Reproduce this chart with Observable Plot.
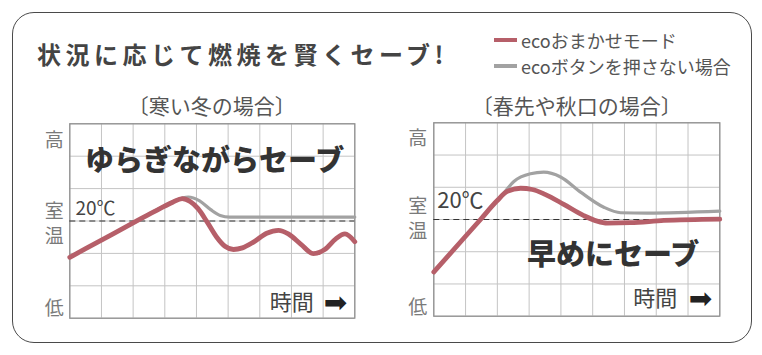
<!DOCTYPE html>
<html><head><meta charset="utf-8">
<script src="https://cdn.jsdelivr.net/npm/d3@7"></script>
<script src="https://cdn.jsdelivr.net/npm/@observablehq/plot@0.6"></script>
<style>
body{margin:0;background:#fff;font-family:"Noto Sans CJK JP",sans-serif;}
#wrap{position:relative;width:762px;height:355px;overflow:hidden;background:#fff;}
#box{position:absolute;box-sizing:border-box;left:11.5px;top:11.5px;width:740px;height:331px;border:1.5px solid #4a4a4a;border-radius:22px;}
#title{position:absolute;left:37px;top:42px;font-size:24px;line-height:24px;font-weight:700;color:#444;letter-spacing:4.5px;white-space:nowrap;}
.sw{position:absolute;left:494px;width:23px;height:4px;}
.lg{position:absolute;left:521px;font-size:18px;line-height:18px;color:#555;white-space:nowrap;}
.pt{position:absolute;top:94px;width:260px;font-size:21px;line-height:22px;color:#555;text-align:center;white-space:nowrap;}
.pn{position:absolute;top:115px;}
</style>
</head><body>
<div id="wrap">
  <div id="box"></div>
  <div id="title"></div>
  <div class="sw" id="sw0" style="top:38px"></div>
  <div class="lg" id="lg0" style="top:31px"></div>
  <div class="sw" id="sw1" style="top:63.7px"></div>
  <div class="lg" id="lg1" style="top:56.7px"></div>
  <div class="pt" id="pt0" style="left:81.7px"></div>
  <div class="pt" id="pt1" style="left:446.7px"></div>
  <div class="pn" id="p0" style="left:30px"></div>
  <div class="pn" id="p1" style="left:395px"></div>
</div>
<script>
// ---- text ----
const titleText = "状況に応じて燃焼を賢くセーブ!";
const seriesNames = ["ecoおまかせモード", "ecoボタンを押さない場合"];
const seriesColors = ["#b65f69", "#a2a2a2"];
const panelTitles = ["〔寒い冬の場合〕", "〔春先や秋口の場合〕"];
const bigLabels = ["ゆらぎながらセーブ", "早めにセーブ"];
const refLabel = "20℃";
const timeLabel = "時間";
const yLabels = ["高", "室", "温", "低"];

// ---- grid / scale values (grid units: 9 columns, 6 rows) ----
const cols = [0, 1, 2, 3, 4, 5, 6, 7, 8, 9];
const rows = [0, 1, 2, 3, 4, 5, 6];
const roomTemp = 3;
const winterLabelPos = [5.48, 3.27, 2.5, 0.29];
const springLabelPos = [5.5, 3.38, 2.6, 0.27];

// ---- winter (寒い冬) ----
const winterEcoX = [0, 1, 2, 2.86, 3.25, 3.55, 3.8, 4.05, 4.33, 4.64, 4.9, 5.17, 5.45, 5.8, 6.22, 6.59, 6.9, 7.3, 7.69, 8.05, 8.4, 8.69, 9];
const winterEcoY = [1.88, 2.41, 2.94, 3.39, 3.58, 3.69, 3.6, 3.38, 2.98, 2.5, 2.22, 2.12, 2.17, 2.35, 2.62, 2.71, 2.6, 2.28, 1.99, 2.12, 2.45, 2.6, 2.36];
const winterOffX = [0, 1, 2, 2.86, 3.3, 3.74, 4.1, 4.45, 4.75, 5.05, 6, 7, 8, 9];
const winterOffY = [1.88, 2.41, 2.94, 3.4, 3.62, 3.74, 3.62, 3.35, 3.17, 3.12, 3.12, 3.12, 3.12, 3.12];

// ---- spring / autumn (春先や秋口) ----
const springEcoX = [0, 1, 1.47, 1.99, 2.31, 2.73, 3.1, 3.5, 4.09, 4.72, 5.14, 5.46, 6.19, 7.24, 9];
const springEcoY = [1.37, 2.48, 3.0, 3.58, 3.87, 3.97, 3.93, 3.78, 3.47, 3.12, 2.95, 2.89, 2.9, 2.97, 3.01];
const springOffX = [0, 1, 1.47, 1.99, 2.2, 2.52, 3.04, 3.46, 3.99, 4.62, 5.35, 5.88, 6.72, 9];
const springOffY = [1.37, 2.48, 3.0, 3.58, 3.82, 4.18, 4.42, 4.47, 4.32, 3.85, 3.38, 3.21, 3.2, 3.26];

// ---- HTML text ----
document.getElementById("title").textContent = titleText;
seriesNames.forEach((n, i) => {
  document.getElementById("lg" + i).textContent = n;
  document.getElementById("sw" + i).style.background = seriesColors[i];
});
panelTitles.forEach((t, i) => document.getElementById("pt" + i).textContent = t);

const JP = '"Noto Sans CJK JP", sans-serif';
const toRows = (xs, ys) => xs.map((x, i) => ({x, y: ys[i]}));

function panel(o) {
  const labelMap = new Map(o.labelPos.map((p, i) => [p, yLabels[i]]));
  return Plot.plot({
    width: 340, height: 215,
    marginLeft: o.ml, marginTop: o.mt, marginRight: o.mr, marginBottom: o.mb,
    x: {domain: [0, 9], axis: null},
    y: {domain: [0, 6], axis: null},
    style: {fontFamily: JP, background: "transparent", overflow: "visible"},
    marks: [
      Plot.gridX(cols, {stroke: "#c4c4c4", strokeOpacity: 1, strokeWidth: 1}),
      Plot.gridY(rows, {stroke: "#c4c4c4", strokeOpacity: 1, strokeWidth: 1}),
      Plot.frame({stroke: "#8c8c8c", strokeWidth: 1.2}),
      Plot.axisY(o.labelPos, {label: null, tickSize: 0, tickPadding: o.pad, tickFormat: d => labelMap.get(d), fontSize: 19, fill: "#7a7a7a", fontFamily: JP}),
      Plot.text([refLabel], {text: d => d, frameAnchor: "top-left", textAnchor: "start", lineAnchor: "middle", dx: o.refDx, dy: o.refDy, fontSize: o.refSize, fill: "#444", fontFamily: JP}),
      Plot.text([o.big], {text: d => d, frameAnchor: "top", textAnchor: "middle", lineAnchor: "middle", dx: o.bigDx, dy: o.bigDy, fontSize: 29, fontWeight: 900, fill: "#333", fontFamily: JP, letterSpacing: o.bigLs}),
      Plot.text([timeLabel], {text: d => d, frameAnchor: "bottom-right", textAnchor: "end", lineAnchor: "middle", dx: o.timeDx, dy: o.timeDy, fontSize: 22, fill: "#444", fontFamily: JP, letterSpacing: 1}),
      Plot.text(["➡"], {text: d => d, frameAnchor: "bottom-right", textAnchor: "end", lineAnchor: "middle", dx: -7.6, dy: o.timeDy, fontSize: 28, fill: "#222", fontFamily: "DejaVu Sans"}),
      Plot.ruleY([roomTemp], {stroke: "#333", strokeDasharray: "6,4", strokeWidth: 1.2}),
      Plot.line(toRows(o.offX, o.offY), {x: "x", y: "y", stroke: seriesColors[1], strokeWidth: 3.2, curve: "monotone-x"}),
      Plot.line(toRows(o.ecoX, o.ecoY), {x: "x", y: "y", stroke: seriesColors[0], strokeWidth: 4.8, curve: "monotone-x"})
    ]
  });
}

document.getElementById("p0").append(panel({
  ml: 39.3, mt: 8.3, mr: 15.7, mb: 12.3, pad: 6,
  labelPos: winterLabelPos,
  ecoX: winterEcoX, ecoY: winterEcoY, offX: winterOffX, offY: winterOffY,
  big: bigLabels[0], bigDx: 2.4, bigDy: 38.4, bigLs: 1.5,
  refDx: 5.7, refDy: 85, refSize: 19,
  timeDx: -41, timeDy: -15.4
}));
document.getElementById("p1").append(panel({
  ml: 38.3, mt: 7.3, mr: 15.7, mb: 14.3, pad: 6.6,
  labelPos: springLabelPos,
  ecoX: springEcoX, ecoY: springEcoY, offX: springOffX, offY: springOffY,
  big: bigLabels[1], bigDx: 36.2, bigDy: 132.7, bigLs: 0.5,
  refDx: 3.4, refDy: 77.7, refSize: 22,
  timeDx: -42.6, timeDy: -17.4
}));
</script>
</body></html>
